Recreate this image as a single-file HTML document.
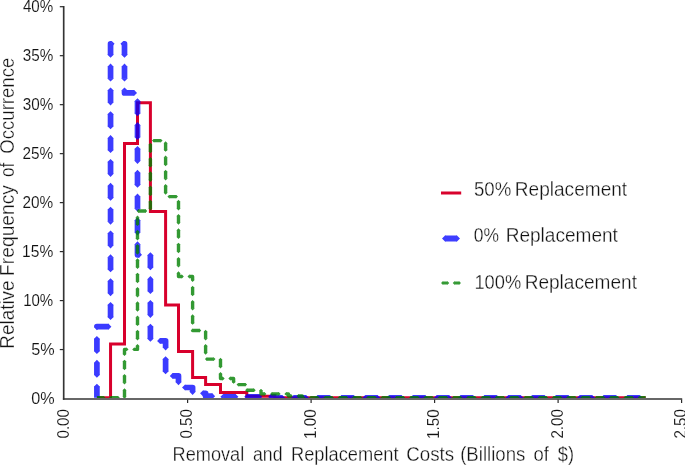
<!DOCTYPE html>
<html><head><meta charset="utf-8"><style>
html,body{margin:0;padding:0;background:#fff;width:685px;height:465px;overflow:hidden}
svg{display:block;font-family:"Liberation Sans", sans-serif}
.tx{opacity:0.995}
text{fill:#111;stroke:#fff;stroke-width:0.3px}
text.tk{stroke-width:0.12px}
</style></head><body>
<svg width="685" height="465" viewBox="0 0 685 465">
<defs><clipPath id="pa"><rect x="64" y="6.7" width="617.5" height="391.3"/></clipPath></defs>
<rect width="685" height="465" fill="#fff"/>
<g clip-path="url(#pa)">
<path d="M96.90,397.80 L110.55,397.80 L110.55,344.05 L124.50,344.05 L124.50,143.50 L137.50,143.50 L137.50,102.70 L150.40,102.70 L150.40,211.50 L165.60,211.50 L165.60,305.00 L178.50,305.00 L178.50,351.60 L192.60,351.60 L192.60,377.40 L205.60,377.40 L205.60,384.40 L220.50,384.40 L220.50,392.60 L246.80,392.60 L246.80,396.20 L274.74,396.20 L274.74,397.80 L645.70,397.80" fill="none" stroke="#D8002C" stroke-width="3" stroke-linejoin="miter"/>
<g opacity="0.765"><path d="M96.90,397.80 L96.90,386.55 M96.90,375.01 L96.90,362.71 M96.90,351.17 L96.90,338.87 M96.90,327.33 L96.90,326.70 L108.57,326.70 M110.55,317.14 L110.55,304.84 M110.55,293.30 L110.55,281.00 M110.55,269.46 L110.55,257.16 M110.55,245.62 L110.55,233.32 M110.55,221.78 L110.55,209.48 M110.55,197.94 L110.55,185.64 M110.55,174.10 L110.55,161.80 M110.55,150.26 L110.55,137.96 M110.55,126.42 L110.55,114.12 M110.55,102.58 L110.55,90.28 M110.55,78.74 L110.55,66.44 M110.55,54.90 L110.55,43.80 L111.75,43.80 M123.29,43.80 L124.50,43.80 L124.50,54.89 M124.50,66.43 L124.50,78.73 M124.50,90.27 L124.50,92.90 L134.17,92.90 M137.50,101.11 L137.50,113.41 M137.50,124.95 L137.50,137.25 M137.50,148.79 L137.50,161.09 M137.50,172.63 L137.50,184.93 M137.50,196.47 L137.50,208.77 M137.50,220.31 L137.50,232.61 M137.50,244.15 L137.50,254.80 L139.15,254.80 M150.40,255.09 L150.40,267.39 M150.40,278.93 L150.40,291.23 M150.40,302.77 L150.40,315.07 M150.40,326.61 L150.40,338.91 M159.95,340.90 L165.60,340.90 L165.60,347.55 M165.60,359.09 L165.60,371.39 M172.63,375.90 L178.50,375.90 L178.50,382.33 M184.87,387.50 L192.60,387.50 L192.60,392.07 M202.91,393.30 L205.60,393.30 L205.60,396.20 L212.31,396.20 M223.25,396.80 L235.55,396.80 M247.09,396.80 L259.39,396.80 M270.93,396.80 L274.74,396.80 L274.74,397.80 L282.23,397.80 M293.77,397.80 L306.07,397.80 M317.61,397.80 L329.91,397.80 M341.45,397.80 L353.75,397.80 M365.29,397.80 L377.59,397.80 M389.13,397.80 L401.43,397.80 M412.97,397.80 L425.27,397.80 M436.81,397.80 L449.11,397.80 M460.65,397.80 L472.95,397.80 M484.49,397.80 L496.79,397.80 M508.33,397.80 L520.63,397.80 M532.17,397.80 L544.47,397.80 M556.01,397.80 L568.31,397.80 M579.85,397.80 L592.15,397.80 M603.69,397.80 L615.99,397.80 M627.53,397.80 L639.83,397.80" fill="none" stroke="#0000FF" stroke-width="5.7" stroke-linejoin="round"/>
<path d="M99.75,386.55 L96.90,383.70 L94.05,386.55 L94.05,387.15 L99.75,387.15Z M99.75,375.01 L96.90,377.86 L94.05,375.01 L94.05,374.41 L99.75,374.41Z M99.75,362.71 L96.90,359.86 L94.05,362.71 L94.05,363.31 L99.75,363.31Z M99.75,351.17 L96.90,354.02 L94.05,351.17 L94.05,350.57 L99.75,350.57Z M99.75,338.87 L96.90,336.02 L94.05,338.87 L94.05,339.47 L99.75,339.47Z M99.75,327.33 L96.90,330.18 L94.05,327.33 L94.05,326.73 L99.75,326.73Z M108.57,329.55 L111.42,326.70 L108.57,323.85 L107.97,323.85 L107.97,329.55Z M113.40,317.14 L110.55,319.99 L107.70,317.14 L107.70,316.54 L113.40,316.54Z M113.40,304.84 L110.55,301.99 L107.70,304.84 L107.70,305.44 L113.40,305.44Z M113.40,293.30 L110.55,296.15 L107.70,293.30 L107.70,292.70 L113.40,292.70Z M113.40,281.00 L110.55,278.15 L107.70,281.00 L107.70,281.60 L113.40,281.60Z M113.40,269.46 L110.55,272.31 L107.70,269.46 L107.70,268.86 L113.40,268.86Z M113.40,257.16 L110.55,254.31 L107.70,257.16 L107.70,257.76 L113.40,257.76Z M113.40,245.62 L110.55,248.47 L107.70,245.62 L107.70,245.02 L113.40,245.02Z M113.40,233.32 L110.55,230.47 L107.70,233.32 L107.70,233.92 L113.40,233.92Z M113.40,221.78 L110.55,224.63 L107.70,221.78 L107.70,221.18 L113.40,221.18Z M113.40,209.48 L110.55,206.63 L107.70,209.48 L107.70,210.08 L113.40,210.08Z M113.40,197.94 L110.55,200.79 L107.70,197.94 L107.70,197.34 L113.40,197.34Z M113.40,185.64 L110.55,182.79 L107.70,185.64 L107.70,186.24 L113.40,186.24Z M113.40,174.10 L110.55,176.95 L107.70,174.10 L107.70,173.50 L113.40,173.50Z M113.40,161.80 L110.55,158.95 L107.70,161.80 L107.70,162.40 L113.40,162.40Z M113.40,150.26 L110.55,153.11 L107.70,150.26 L107.70,149.66 L113.40,149.66Z M113.40,137.96 L110.55,135.11 L107.70,137.96 L107.70,138.56 L113.40,138.56Z M113.40,126.42 L110.55,129.27 L107.70,126.42 L107.70,125.82 L113.40,125.82Z M113.40,114.12 L110.55,111.27 L107.70,114.12 L107.70,114.72 L113.40,114.72Z M113.40,102.58 L110.55,105.43 L107.70,102.58 L107.70,101.98 L113.40,101.98Z M113.40,90.28 L110.55,87.43 L107.70,90.28 L107.70,90.88 L113.40,90.88Z M113.40,78.74 L110.55,81.59 L107.70,78.74 L107.70,78.14 L113.40,78.14Z M113.40,66.44 L110.55,63.59 L107.70,66.44 L107.70,67.04 L113.40,67.04Z M113.40,54.90 L110.55,57.75 L107.70,54.90 L107.70,54.30 L113.40,54.30Z M111.75,46.65 L114.60,43.80 L111.75,40.95 L111.15,40.95 L111.15,46.65Z M123.29,46.65 L120.44,43.80 L123.29,40.95 L123.89,40.95 L123.89,46.65Z M121.65,54.89 L124.50,57.74 L127.35,54.89 L127.35,54.29 L121.65,54.29Z M121.65,66.43 L124.50,63.58 L127.35,66.43 L127.35,67.03 L121.65,67.03Z M121.65,78.73 L124.50,81.58 L127.35,78.73 L127.35,78.13 L121.65,78.13Z M121.65,90.27 L124.50,87.42 L127.35,90.27 L127.35,90.87 L121.65,90.87Z M134.17,95.75 L137.02,92.90 L134.17,90.05 L133.57,90.05 L133.57,95.75Z M134.65,101.11 L137.50,98.26 L140.35,101.11 L140.35,101.71 L134.65,101.71Z M134.65,113.41 L137.50,116.26 L140.35,113.41 L140.35,112.81 L134.65,112.81Z M134.65,124.95 L137.50,122.10 L140.35,124.95 L140.35,125.55 L134.65,125.55Z M134.65,137.25 L137.50,140.10 L140.35,137.25 L140.35,136.65 L134.65,136.65Z M134.65,148.79 L137.50,145.94 L140.35,148.79 L140.35,149.39 L134.65,149.39Z M134.65,161.09 L137.50,163.94 L140.35,161.09 L140.35,160.49 L134.65,160.49Z M134.65,172.63 L137.50,169.78 L140.35,172.63 L140.35,173.23 L134.65,173.23Z M134.65,184.93 L137.50,187.78 L140.35,184.93 L140.35,184.33 L134.65,184.33Z M134.65,196.47 L137.50,193.62 L140.35,196.47 L140.35,197.07 L134.65,197.07Z M134.65,208.77 L137.50,211.62 L140.35,208.77 L140.35,208.17 L134.65,208.17Z M134.65,220.31 L137.50,217.46 L140.35,220.31 L140.35,220.91 L134.65,220.91Z M134.65,232.61 L137.50,235.46 L140.35,232.61 L140.35,232.01 L134.65,232.01Z M134.65,244.15 L137.50,241.30 L140.35,244.15 L140.35,244.75 L134.65,244.75Z M139.15,257.65 L142.00,254.80 L139.15,251.95 L138.55,251.95 L138.55,257.65Z M147.55,255.09 L150.40,252.24 L153.25,255.09 L153.25,255.69 L147.55,255.69Z M147.55,267.39 L150.40,270.24 L153.25,267.39 L153.25,266.79 L147.55,266.79Z M147.55,278.93 L150.40,276.08 L153.25,278.93 L153.25,279.53 L147.55,279.53Z M147.55,291.23 L150.40,294.08 L153.25,291.23 L153.25,290.63 L147.55,290.63Z M147.55,302.77 L150.40,299.92 L153.25,302.77 L153.25,303.37 L147.55,303.37Z M147.55,315.07 L150.40,317.92 L153.25,315.07 L153.25,314.47 L147.55,314.47Z M147.55,326.61 L150.40,323.76 L153.25,326.61 L153.25,327.21 L147.55,327.21Z M147.55,338.91 L150.40,341.76 L153.25,338.91 L153.25,338.31 L147.55,338.31Z M159.95,343.75 L157.10,340.90 L159.95,338.05 L160.55,338.05 L160.55,343.75Z M162.75,347.55 L165.60,350.40 L168.45,347.55 L168.45,346.95 L162.75,346.95Z M162.75,359.09 L165.60,356.24 L168.45,359.09 L168.45,359.69 L162.75,359.69Z M162.75,371.39 L165.60,374.24 L168.45,371.39 L168.45,370.79 L162.75,370.79Z M172.63,378.75 L169.78,375.90 L172.63,373.05 L173.23,373.05 L173.23,378.75Z M175.65,382.33 L178.50,385.18 L181.35,382.33 L181.35,381.73 L175.65,381.73Z M184.87,390.35 L182.02,387.50 L184.87,384.65 L185.47,384.65 L185.47,390.35Z M189.75,392.07 L192.60,394.92 L195.45,392.07 L195.45,391.47 L189.75,391.47Z M202.91,396.15 L200.06,393.30 L202.91,390.45 L203.51,390.45 L203.51,396.15Z M212.31,399.05 L215.16,396.20 L212.31,393.35 L211.71,393.35 L211.71,399.05Z M223.25,399.65 L220.40,396.80 L223.25,393.95 L223.85,393.95 L223.85,399.65Z M235.55,399.65 L238.40,396.80 L235.55,393.95 L234.95,393.95 L234.95,399.65Z M247.09,399.65 L244.24,396.80 L247.09,393.95 L247.69,393.95 L247.69,399.65Z M259.39,399.65 L262.24,396.80 L259.39,393.95 L258.79,393.95 L258.79,399.65Z M270.93,399.65 L268.08,396.80 L270.93,393.95 L271.53,393.95 L271.53,399.65Z M282.23,400.65 L285.08,397.80 L282.23,394.95 L281.63,394.95 L281.63,400.65Z M293.77,400.65 L290.92,397.80 L293.77,394.95 L294.37,394.95 L294.37,400.65Z M306.07,400.65 L308.92,397.80 L306.07,394.95 L305.47,394.95 L305.47,400.65Z M317.61,400.65 L314.76,397.80 L317.61,394.95 L318.21,394.95 L318.21,400.65Z M329.91,400.65 L332.76,397.80 L329.91,394.95 L329.31,394.95 L329.31,400.65Z M341.45,400.65 L338.60,397.80 L341.45,394.95 L342.05,394.95 L342.05,400.65Z M353.75,400.65 L356.60,397.80 L353.75,394.95 L353.15,394.95 L353.15,400.65Z M365.29,400.65 L362.44,397.80 L365.29,394.95 L365.89,394.95 L365.89,400.65Z M377.59,400.65 L380.44,397.80 L377.59,394.95 L376.99,394.95 L376.99,400.65Z M389.13,400.65 L386.28,397.80 L389.13,394.95 L389.73,394.95 L389.73,400.65Z M401.43,400.65 L404.28,397.80 L401.43,394.95 L400.83,394.95 L400.83,400.65Z M412.97,400.65 L410.12,397.80 L412.97,394.95 L413.57,394.95 L413.57,400.65Z M425.27,400.65 L428.12,397.80 L425.27,394.95 L424.67,394.95 L424.67,400.65Z M436.81,400.65 L433.96,397.80 L436.81,394.95 L437.41,394.95 L437.41,400.65Z M449.11,400.65 L451.96,397.80 L449.11,394.95 L448.51,394.95 L448.51,400.65Z M460.65,400.65 L457.80,397.80 L460.65,394.95 L461.25,394.95 L461.25,400.65Z M472.95,400.65 L475.80,397.80 L472.95,394.95 L472.35,394.95 L472.35,400.65Z M484.49,400.65 L481.64,397.80 L484.49,394.95 L485.09,394.95 L485.09,400.65Z M496.79,400.65 L499.64,397.80 L496.79,394.95 L496.19,394.95 L496.19,400.65Z M508.33,400.65 L505.48,397.80 L508.33,394.95 L508.93,394.95 L508.93,400.65Z M520.63,400.65 L523.48,397.80 L520.63,394.95 L520.03,394.95 L520.03,400.65Z M532.17,400.65 L529.32,397.80 L532.17,394.95 L532.77,394.95 L532.77,400.65Z M544.47,400.65 L547.32,397.80 L544.47,394.95 L543.87,394.95 L543.87,400.65Z M556.01,400.65 L553.16,397.80 L556.01,394.95 L556.61,394.95 L556.61,400.65Z M568.31,400.65 L571.16,397.80 L568.31,394.95 L567.71,394.95 L567.71,400.65Z M579.85,400.65 L577.00,397.80 L579.85,394.95 L580.45,394.95 L580.45,400.65Z M592.15,400.65 L595.00,397.80 L592.15,394.95 L591.55,394.95 L591.55,400.65Z M603.69,400.65 L600.84,397.80 L603.69,394.95 L604.29,394.95 L604.29,400.65Z M615.99,400.65 L618.84,397.80 L615.99,394.95 L615.39,394.95 L615.39,400.65Z M627.53,400.65 L624.68,397.80 L627.53,394.95 L628.13,394.95 L628.13,400.65Z M639.83,400.65 L642.68,397.80 L639.83,394.95 L639.23,394.95 L639.23,400.65Z" fill="#0000FF"/></g>
<g opacity="0.8"><path d="M96.90,397.80 L103.81,397.80 M110.90,397.80 L118.09,397.80 M124.50,397.12 L124.50,389.92 M124.50,382.83 L124.50,375.63 M124.50,368.55 L124.50,361.35 M124.50,354.26 L124.50,349.40 L126.83,349.40 M133.92,349.40 L137.50,349.40 L137.50,345.78 M137.50,338.70 L137.50,331.50 M137.50,324.41 L137.50,317.21 M137.50,310.12 L137.50,302.93 M137.50,295.84 L137.50,288.64 M137.50,281.56 L137.50,274.36 M137.50,267.27 L137.50,260.07 M137.50,252.99 L137.50,245.79 M137.50,238.70 L137.50,231.50 M137.50,224.42 L137.50,217.22 M138.37,211.00 L145.57,211.00 M150.40,208.75 L150.40,201.55 M150.40,194.46 L150.40,187.26 M150.40,180.18 L150.40,172.98 M150.40,165.89 L150.40,158.69 M150.40,151.61 L150.40,144.41 M153.68,140.60 L160.88,140.60 M165.60,142.97 L165.60,150.17 M165.60,157.25 L165.60,164.45 M165.60,171.54 L165.60,178.74 M165.60,185.82 L165.60,193.02 M169.11,196.60 L176.31,196.60 M178.50,201.49 L178.50,208.69 M178.50,215.78 L178.50,222.98 M178.50,230.06 L178.50,237.26 M178.50,244.35 L178.50,251.55 M178.50,258.63 L178.50,265.83 M178.50,272.92 L178.50,276.50 L182.12,276.50 M189.20,276.50 L192.60,276.50 L192.60,280.30 M192.60,287.39 L192.60,294.59 M192.60,301.67 L192.60,308.87 M192.60,315.96 L192.60,323.16 M192.60,330.24 L192.60,330.50 L199.54,330.50 M205.60,331.53 L205.60,338.73 M205.60,345.81 L205.60,353.01 M206.60,359.10 L213.80,359.10 M220.50,359.48 L220.50,366.68 M220.50,373.77 L220.50,378.50 L222.97,378.50 M230.05,378.50 L233.60,378.50 L233.60,382.15 M238.23,384.60 L245.43,384.60 M246.82,390.30 L254.02,390.30 M261.00,390.40 L261.00,393.90 L264.70,393.90 M271.79,393.90 L278.99,393.90 M286.07,393.90 L288.48,393.90 L288.48,396.00 L291.17,396.00 M298.26,396.00 L302.22,396.00 L302.22,397.80 L303.66,397.80 M310.74,397.80 L317.94,397.80 M325.03,397.80 L332.23,397.80 M339.31,397.80 L346.51,397.80 M353.60,397.80 L360.80,397.80 M367.88,397.80 L375.08,397.80 M382.17,397.80 L389.37,397.80 M396.45,397.80 L403.65,397.80 M410.74,397.80 L417.94,397.80 M425.02,397.80 L432.22,397.80 M439.31,397.80 L446.51,397.80 M453.59,397.80 L460.79,397.80 M467.88,397.80 L475.08,397.80 M482.16,397.80 L489.36,397.80 M496.45,397.80 L503.65,397.80 M510.73,397.80 L517.93,397.80 M525.02,397.80 L532.22,397.80 M539.30,397.80 L546.50,397.80 M553.59,397.80 L560.79,397.80 M567.87,397.80 L575.07,397.80 M582.16,397.80 L589.36,397.80 M596.44,397.80 L603.64,397.80 M610.73,397.80 L617.93,397.80 M625.01,397.80 L632.21,397.80 M639.30,397.80 L645.70,397.80" fill="none" stroke="#008000" stroke-width="3.4" stroke-linejoin="round"/>
<path d="M103.81,399.50 L105.51,397.80 L103.81,396.10 L103.21,396.10 L103.21,399.50Z M110.90,399.50 L109.20,397.80 L110.90,396.10 L111.50,396.10 L111.50,399.50Z M118.09,399.50 L119.80,397.80 L118.09,396.10 L117.50,396.10 L117.50,399.50Z M126.20,397.12 L124.50,398.82 L122.80,397.12 L122.80,396.52 L126.20,396.52Z M126.20,389.92 L124.50,388.22 L122.80,389.92 L122.80,390.52 L126.20,390.52Z M126.20,382.83 L124.50,384.53 L122.80,382.83 L122.80,382.23 L126.20,382.23Z M126.20,375.63 L124.50,373.94 L122.80,375.63 L122.80,376.24 L126.20,376.24Z M126.20,368.55 L124.50,370.25 L122.80,368.55 L122.80,367.95 L126.20,367.95Z M126.20,361.35 L124.50,359.65 L122.80,361.35 L122.80,361.95 L126.20,361.95Z M126.20,354.26 L124.50,355.96 L122.80,354.26 L122.80,353.66 L126.20,353.66Z M126.83,351.10 L128.53,349.40 L126.83,347.70 L126.23,347.70 L126.23,351.10Z M133.92,351.10 L132.22,349.40 L133.92,347.70 L134.52,347.70 L134.52,351.10Z M139.20,345.78 L137.50,344.08 L135.80,345.78 L135.80,346.38 L139.20,346.38Z M139.20,338.70 L137.50,340.40 L135.80,338.70 L135.80,338.10 L139.20,338.10Z M139.20,331.50 L137.50,329.80 L135.80,331.50 L135.80,332.10 L139.20,332.10Z M139.20,324.41 L137.50,326.11 L135.80,324.41 L135.80,323.81 L139.20,323.81Z M139.20,317.21 L137.50,315.51 L135.80,317.21 L135.80,317.81 L139.20,317.81Z M139.20,310.12 L137.50,311.82 L135.80,310.12 L135.80,309.52 L139.20,309.52Z M139.20,302.93 L137.50,301.23 L135.80,302.93 L135.80,303.53 L139.20,303.53Z M139.20,295.84 L137.50,297.54 L135.80,295.84 L135.80,295.24 L139.20,295.24Z M139.20,288.64 L137.50,286.94 L135.80,288.64 L135.80,289.24 L139.20,289.24Z M139.20,281.56 L137.50,283.26 L135.80,281.56 L135.80,280.96 L139.20,280.96Z M139.20,274.36 L137.50,272.66 L135.80,274.36 L135.80,274.96 L139.20,274.96Z M139.20,267.27 L137.50,268.97 L135.80,267.27 L135.80,266.67 L139.20,266.67Z M139.20,260.07 L137.50,258.37 L135.80,260.07 L135.80,260.67 L139.20,260.67Z M139.20,252.99 L137.50,254.69 L135.80,252.99 L135.80,252.39 L139.20,252.39Z M139.20,245.79 L137.50,244.09 L135.80,245.79 L135.80,246.39 L139.20,246.39Z M139.20,238.70 L137.50,240.40 L135.80,238.70 L135.80,238.10 L139.20,238.10Z M139.20,231.50 L137.50,229.80 L135.80,231.50 L135.80,232.10 L139.20,232.10Z M139.20,224.42 L137.50,226.12 L135.80,224.42 L135.80,223.82 L139.20,223.82Z M139.20,217.22 L137.50,215.52 L135.80,217.22 L135.80,217.82 L139.20,217.82Z M138.37,212.70 L136.67,211.00 L138.37,209.30 L138.97,209.30 L138.97,212.70Z M145.57,212.70 L147.27,211.00 L145.57,209.30 L144.97,209.30 L144.97,212.70Z M152.10,208.75 L150.40,210.45 L148.70,208.75 L148.70,208.15 L152.10,208.15Z M152.10,201.55 L150.40,199.85 L148.70,201.55 L148.70,202.15 L152.10,202.15Z M152.10,194.46 L150.40,196.16 L148.70,194.46 L148.70,193.86 L152.10,193.86Z M152.10,187.26 L150.40,185.56 L148.70,187.26 L148.70,187.86 L152.10,187.86Z M152.10,180.18 L150.40,181.88 L148.70,180.18 L148.70,179.58 L152.10,179.58Z M152.10,172.98 L150.40,171.28 L148.70,172.98 L148.70,173.58 L152.10,173.58Z M152.10,165.89 L150.40,167.59 L148.70,165.89 L148.70,165.29 L152.10,165.29Z M152.10,158.69 L150.40,156.99 L148.70,158.69 L148.70,159.29 L152.10,159.29Z M152.10,151.61 L150.40,153.31 L148.70,151.61 L148.70,151.01 L152.10,151.01Z M152.10,144.41 L150.40,142.71 L148.70,144.41 L148.70,145.00 L152.10,145.00Z M153.68,142.30 L151.98,140.60 L153.68,138.90 L154.28,138.90 L154.28,142.30Z M160.88,142.30 L162.58,140.60 L160.88,138.90 L160.28,138.90 L160.28,142.30Z M163.90,142.97 L165.60,141.27 L167.30,142.97 L167.30,143.56 L163.90,143.56Z M163.90,150.17 L165.60,151.87 L167.30,150.17 L167.30,149.57 L163.90,149.57Z M163.90,157.25 L165.60,155.55 L167.30,157.25 L167.30,157.85 L163.90,157.85Z M163.90,164.45 L165.60,166.15 L167.30,164.45 L167.30,163.85 L163.90,163.85Z M163.90,171.54 L165.60,169.84 L167.30,171.54 L167.30,172.14 L163.90,172.14Z M163.90,178.74 L165.60,180.44 L167.30,178.74 L167.30,178.14 L163.90,178.14Z M163.90,185.82 L165.60,184.12 L167.30,185.82 L167.30,186.42 L163.90,186.42Z M163.90,193.02 L165.60,194.72 L167.30,193.02 L167.30,192.42 L163.90,192.42Z M169.11,198.30 L167.41,196.60 L169.11,194.90 L169.71,194.90 L169.71,198.30Z M176.31,198.30 L178.01,196.60 L176.31,194.90 L175.71,194.90 L175.71,198.30Z M176.80,201.49 L178.50,199.79 L180.20,201.49 L180.20,202.09 L176.80,202.09Z M176.80,208.69 L178.50,210.39 L180.20,208.69 L180.20,208.09 L176.80,208.09Z M176.80,215.78 L178.50,214.08 L180.20,215.78 L180.20,216.38 L176.80,216.38Z M176.80,222.98 L178.50,224.68 L180.20,222.98 L180.20,222.38 L176.80,222.38Z M176.80,230.06 L178.50,228.36 L180.20,230.06 L180.20,230.66 L176.80,230.66Z M176.80,237.26 L178.50,238.96 L180.20,237.26 L180.20,236.66 L176.80,236.66Z M176.80,244.35 L178.50,242.65 L180.20,244.35 L180.20,244.95 L176.80,244.95Z M176.80,251.55 L178.50,253.25 L180.20,251.55 L180.20,250.95 L176.80,250.95Z M176.80,258.63 L178.50,256.93 L180.20,258.63 L180.20,259.23 L176.80,259.23Z M176.80,265.83 L178.50,267.53 L180.20,265.83 L180.20,265.23 L176.80,265.23Z M176.80,272.92 L178.50,271.22 L180.20,272.92 L180.20,273.52 L176.80,273.52Z M182.12,278.20 L183.82,276.50 L182.12,274.80 L181.52,274.80 L181.52,278.20Z M189.20,278.20 L187.50,276.50 L189.20,274.80 L189.80,274.80 L189.80,278.20Z M190.90,280.30 L192.60,282.00 L194.30,280.30 L194.30,279.70 L190.90,279.70Z M190.90,287.39 L192.60,285.69 L194.30,287.39 L194.30,287.99 L190.90,287.99Z M190.90,294.59 L192.60,296.29 L194.30,294.59 L194.30,293.99 L190.90,293.99Z M190.90,301.67 L192.60,299.97 L194.30,301.67 L194.30,302.27 L190.90,302.27Z M190.90,308.87 L192.60,310.57 L194.30,308.87 L194.30,308.27 L190.90,308.27Z M190.90,315.96 L192.60,314.26 L194.30,315.96 L194.30,316.56 L190.90,316.56Z M190.90,323.16 L192.60,324.86 L194.30,323.16 L194.30,322.56 L190.90,322.56Z M190.90,330.24 L192.60,328.54 L194.30,330.24 L194.30,330.84 L190.90,330.84Z M199.54,332.20 L201.24,330.50 L199.54,328.80 L198.94,328.80 L198.94,332.20Z M203.90,331.53 L205.60,329.83 L207.30,331.53 L207.30,332.13 L203.90,332.13Z M203.90,338.73 L205.60,340.43 L207.30,338.73 L207.30,338.13 L203.90,338.13Z M203.90,345.81 L205.60,344.11 L207.30,345.81 L207.30,346.41 L203.90,346.41Z M203.90,353.01 L205.60,354.71 L207.30,353.01 L207.30,352.41 L203.90,352.41Z M206.60,360.80 L204.90,359.10 L206.60,357.40 L207.20,357.40 L207.20,360.80Z M213.80,360.80 L215.50,359.10 L213.80,357.40 L213.20,357.40 L213.20,360.80Z M218.80,359.48 L220.50,357.78 L222.20,359.48 L222.20,360.08 L218.80,360.08Z M218.80,366.68 L220.50,368.38 L222.20,366.68 L222.20,366.08 L218.80,366.08Z M218.80,373.77 L220.50,372.07 L222.20,373.77 L222.20,374.37 L218.80,374.37Z M222.97,380.20 L224.67,378.50 L222.97,376.80 L222.37,376.80 L222.37,380.20Z M230.05,380.20 L228.35,378.50 L230.05,376.80 L230.65,376.80 L230.65,380.20Z M231.90,382.15 L233.60,383.85 L235.30,382.15 L235.30,381.55 L231.90,381.55Z M238.23,386.30 L236.53,384.60 L238.23,382.90 L238.83,382.90 L238.83,386.30Z M245.43,386.30 L247.13,384.60 L245.43,382.90 L244.83,382.90 L244.83,386.30Z M246.82,392.00 L245.12,390.30 L246.82,388.60 L247.42,388.60 L247.42,392.00Z M254.02,392.00 L255.72,390.30 L254.02,388.60 L253.42,388.60 L253.42,392.00Z M259.30,390.40 L261.00,388.70 L262.70,390.40 L262.70,391.00 L259.30,391.00Z M264.70,395.60 L266.40,393.90 L264.70,392.20 L264.10,392.20 L264.10,395.60Z M271.79,395.60 L270.09,393.90 L271.79,392.20 L272.39,392.20 L272.39,395.60Z M278.99,395.60 L280.69,393.90 L278.99,392.20 L278.39,392.20 L278.39,395.60Z M286.07,395.60 L284.37,393.90 L286.07,392.20 L286.67,392.20 L286.67,395.60Z M291.17,397.70 L292.87,396.00 L291.17,394.30 L290.57,394.30 L290.57,397.70Z M298.26,397.70 L296.56,396.00 L298.26,394.30 L298.86,394.30 L298.86,397.70Z M303.66,399.50 L305.36,397.80 L303.66,396.10 L303.06,396.10 L303.06,399.50Z M310.74,399.50 L309.04,397.80 L310.74,396.10 L311.34,396.10 L311.34,399.50Z M317.94,399.50 L319.64,397.80 L317.94,396.10 L317.34,396.10 L317.34,399.50Z M325.03,399.50 L323.33,397.80 L325.03,396.10 L325.63,396.10 L325.63,399.50Z M332.23,399.50 L333.93,397.80 L332.23,396.10 L331.63,396.10 L331.63,399.50Z M339.31,399.50 L337.61,397.80 L339.31,396.10 L339.91,396.10 L339.91,399.50Z M346.51,399.50 L348.21,397.80 L346.51,396.10 L345.91,396.10 L345.91,399.50Z M353.60,399.50 L351.90,397.80 L353.60,396.10 L354.20,396.10 L354.20,399.50Z M360.80,399.50 L362.50,397.80 L360.80,396.10 L360.20,396.10 L360.20,399.50Z M367.88,399.50 L366.18,397.80 L367.88,396.10 L368.48,396.10 L368.48,399.50Z M375.08,399.50 L376.78,397.80 L375.08,396.10 L374.48,396.10 L374.48,399.50Z M382.17,399.50 L380.47,397.80 L382.17,396.10 L382.77,396.10 L382.77,399.50Z M389.37,399.50 L391.07,397.80 L389.37,396.10 L388.77,396.10 L388.77,399.50Z M396.45,399.50 L394.75,397.80 L396.45,396.10 L397.05,396.10 L397.05,399.50Z M403.65,399.50 L405.35,397.80 L403.65,396.10 L403.05,396.10 L403.05,399.50Z M410.74,399.50 L409.04,397.80 L410.74,396.10 L411.34,396.10 L411.34,399.50Z M417.94,399.50 L419.64,397.80 L417.94,396.10 L417.34,396.10 L417.34,399.50Z M425.02,399.50 L423.32,397.80 L425.02,396.10 L425.62,396.10 L425.62,399.50Z M432.22,399.50 L433.92,397.80 L432.22,396.10 L431.62,396.10 L431.62,399.50Z M439.31,399.50 L437.61,397.80 L439.31,396.10 L439.91,396.10 L439.91,399.50Z M446.51,399.50 L448.21,397.80 L446.51,396.10 L445.91,396.10 L445.91,399.50Z M453.59,399.50 L451.89,397.80 L453.59,396.10 L454.19,396.10 L454.19,399.50Z M460.79,399.50 L462.49,397.80 L460.79,396.10 L460.19,396.10 L460.19,399.50Z M467.88,399.50 L466.18,397.80 L467.88,396.10 L468.48,396.10 L468.48,399.50Z M475.08,399.50 L476.78,397.80 L475.08,396.10 L474.48,396.10 L474.48,399.50Z M482.16,399.50 L480.46,397.80 L482.16,396.10 L482.76,396.10 L482.76,399.50Z M489.36,399.50 L491.06,397.80 L489.36,396.10 L488.76,396.10 L488.76,399.50Z M496.45,399.50 L494.75,397.80 L496.45,396.10 L497.05,396.10 L497.05,399.50Z M503.65,399.50 L505.35,397.80 L503.65,396.10 L503.05,396.10 L503.05,399.50Z M510.73,399.50 L509.03,397.80 L510.73,396.10 L511.33,396.10 L511.33,399.50Z M517.93,399.50 L519.63,397.80 L517.93,396.10 L517.33,396.10 L517.33,399.50Z M525.02,399.50 L523.32,397.80 L525.02,396.10 L525.62,396.10 L525.62,399.50Z M532.22,399.50 L533.92,397.80 L532.22,396.10 L531.62,396.10 L531.62,399.50Z M539.30,399.50 L537.60,397.80 L539.30,396.10 L539.90,396.10 L539.90,399.50Z M546.50,399.50 L548.20,397.80 L546.50,396.10 L545.90,396.10 L545.90,399.50Z M553.59,399.50 L551.89,397.80 L553.59,396.10 L554.19,396.10 L554.19,399.50Z M560.79,399.50 L562.49,397.80 L560.79,396.10 L560.19,396.10 L560.19,399.50Z M567.87,399.50 L566.17,397.80 L567.87,396.10 L568.47,396.10 L568.47,399.50Z M575.07,399.50 L576.77,397.80 L575.07,396.10 L574.47,396.10 L574.47,399.50Z M582.16,399.50 L580.46,397.80 L582.16,396.10 L582.76,396.10 L582.76,399.50Z M589.36,399.50 L591.06,397.80 L589.36,396.10 L588.76,396.10 L588.76,399.50Z M596.44,399.50 L594.74,397.80 L596.44,396.10 L597.04,396.10 L597.04,399.50Z M603.64,399.50 L605.34,397.80 L603.64,396.10 L603.04,396.10 L603.04,399.50Z M610.73,399.50 L609.03,397.80 L610.73,396.10 L611.33,396.10 L611.33,399.50Z M617.93,399.50 L619.63,397.80 L617.93,396.10 L617.33,396.10 L617.33,399.50Z M625.01,399.50 L623.31,397.80 L625.01,396.10 L625.61,396.10 L625.61,399.50Z M632.21,399.50 L633.91,397.80 L632.21,396.10 L631.61,396.10 L631.61,399.50Z M639.30,399.50 L637.60,397.80 L639.30,396.10 L639.90,396.10 L639.90,399.50Z" fill="#008000"/></g>
</g>
<g class="tx">
<line x1="63.7" y1="6.0" x2="63.7" y2="399.85" stroke="#333" stroke-width="1.67"/>
<line x1="62.9" y1="399.0" x2="682.2" y2="399.0" stroke="#333" stroke-width="1.7"/>
<line x1="59.8" y1="6.70" x2="63.7" y2="6.70" stroke="#2a2a2a" stroke-width="1.2"/>
<text class="tk" x="22.95" y="11.70" font-size="16.5" textLength="30.29" lengthAdjust="spacingAndGlyphs">40%</text>
<line x1="59.8" y1="55.68" x2="63.7" y2="55.68" stroke="#2a2a2a" stroke-width="1.2"/>
<text class="tk" x="22.72" y="60.68" font-size="16.5" textLength="30.52" lengthAdjust="spacingAndGlyphs">35%</text>
<line x1="59.8" y1="104.66" x2="63.7" y2="104.66" stroke="#2a2a2a" stroke-width="1.2"/>
<text class="tk" x="22.72" y="109.66" font-size="16.5" textLength="30.52" lengthAdjust="spacingAndGlyphs">30%</text>
<line x1="59.8" y1="153.64" x2="63.7" y2="153.64" stroke="#2a2a2a" stroke-width="1.2"/>
<text class="tk" x="22.53" y="158.64" font-size="16.5" textLength="30.72" lengthAdjust="spacingAndGlyphs">25%</text>
<line x1="59.8" y1="202.62" x2="63.7" y2="202.62" stroke="#2a2a2a" stroke-width="1.2"/>
<text class="tk" x="22.53" y="207.62" font-size="16.5" textLength="30.72" lengthAdjust="spacingAndGlyphs">20%</text>
<line x1="59.8" y1="251.60" x2="63.7" y2="251.60" stroke="#2a2a2a" stroke-width="1.2"/>
<text class="tk" x="22.11" y="256.60" font-size="16.5" textLength="31.14" lengthAdjust="spacingAndGlyphs">15%</text>
<line x1="59.8" y1="300.58" x2="63.7" y2="300.58" stroke="#2a2a2a" stroke-width="1.2"/>
<text class="tk" x="23.16" y="305.58" font-size="16.5" textLength="30.08" lengthAdjust="spacingAndGlyphs">10%</text>
<line x1="59.8" y1="349.56" x2="63.7" y2="349.56" stroke="#2a2a2a" stroke-width="1.2"/>
<text class="tk" x="31.35" y="354.56" font-size="16.5" textLength="23.43" lengthAdjust="spacingAndGlyphs">5%</text>
<text class="tk" x="31.37" y="403.54" font-size="16.5" textLength="23.41" lengthAdjust="spacingAndGlyphs">0%</text>
<text class="tk" transform="translate(68.70,0) rotate(-90)" x="-438.39" y="0" font-size="17" textLength="29.17" lengthAdjust="spacingAndGlyphs">0.00</text>
<line x1="187.60" y1="399.5" x2="187.60" y2="403" stroke="#2a2a2a" stroke-width="1.2"/>
<text class="tk" transform="translate(192.20,0) rotate(-90)" x="-438.39" y="0" font-size="17" textLength="29.17" lengthAdjust="spacingAndGlyphs">0.50</text>
<line x1="311.10" y1="399.5" x2="311.10" y2="403" stroke="#2a2a2a" stroke-width="1.2"/>
<text class="tk" transform="translate(315.70,0) rotate(-90)" x="-438.96" y="0" font-size="17" textLength="29.76" lengthAdjust="spacingAndGlyphs">1.00</text>
<line x1="434.60" y1="399.5" x2="434.60" y2="403" stroke="#2a2a2a" stroke-width="1.2"/>
<text class="tk" transform="translate(439.20,0) rotate(-90)" x="-438.96" y="0" font-size="17" textLength="29.76" lengthAdjust="spacingAndGlyphs">1.50</text>
<line x1="558.10" y1="399.5" x2="558.10" y2="403" stroke="#2a2a2a" stroke-width="1.2"/>
<text class="tk" transform="translate(562.70,0) rotate(-90)" x="-438.56" y="0" font-size="17" textLength="29.35" lengthAdjust="spacingAndGlyphs">2.00</text>
<line x1="681.60" y1="399.5" x2="681.60" y2="403" stroke="#2a2a2a" stroke-width="1.2"/>
<text class="tk" transform="translate(686.20,0) rotate(-90)" x="-438.56" y="0" font-size="17" textLength="29.35" lengthAdjust="spacingAndGlyphs">2.50</text>
<text x="172.61" y="461.2" font-size="19.5" textLength="71.60" lengthAdjust="spacingAndGlyphs">Removal</text>
<text x="253.05" y="461.2" font-size="19.5" textLength="29.49" lengthAdjust="spacingAndGlyphs">and</text>
<text x="291.00" y="461.2" font-size="19.5" textLength="107.53" lengthAdjust="spacingAndGlyphs">Replacement</text>
<text x="406.25" y="461.2" font-size="19.5" textLength="47.93" lengthAdjust="spacingAndGlyphs">Costs</text>
<text x="460.14" y="461.2" font-size="19.5" textLength="65.23" lengthAdjust="spacingAndGlyphs">(Billions</text>
<text x="533.43" y="461.2" font-size="19.5" textLength="15.35" lengthAdjust="spacingAndGlyphs">of</text>
<text x="557.80" y="461.2" font-size="19.5" textLength="16.23" lengthAdjust="spacingAndGlyphs">$)</text>
<text transform="translate(13.9,0) rotate(-90)" x="-348.65" y="0" font-size="19.5" textLength="68.19" lengthAdjust="spacingAndGlyphs">Relative</text>
<text transform="translate(13.9,0) rotate(-90)" x="-275.88" y="0" font-size="19.5" textLength="90.81" lengthAdjust="spacingAndGlyphs">Frequency</text>
<text transform="translate(13.9,0) rotate(-90)" x="-176.92" y="0" font-size="19.5" textLength="14.29" lengthAdjust="spacingAndGlyphs">of</text>
<text transform="translate(13.9,0) rotate(-90)" x="-153.78" y="0" font-size="19.5" textLength="96.11" lengthAdjust="spacingAndGlyphs">Occurrence</text>
<line x1="441" y1="193" x2="461.2" y2="193" stroke="#D8002C" stroke-width="3"/>
<g opacity="0.765"><path d="M445.00,238.50 L457.00,238.50" fill="none" stroke="#0000FF" stroke-width="6"/><path d="M445.00,241.50 L442.00,238.50 L445.00,235.50 L445.60,235.50 L445.60,241.50Z M457.00,241.50 L460.00,238.50 L457.00,235.50 L456.40,235.50 L456.40,241.50Z" fill="#0000FF"/></g>
<g opacity="0.8"><path d="M442.60,283.00 L447.70,283.00 M454.30,283.00 L459.40,283.00" fill="none" stroke="#008000" stroke-width="3.2"/><path d="M442.60,284.60 L441.00,283.00 L442.60,281.40 L443.20,281.40 L443.20,284.60Z M447.70,284.60 L449.30,283.00 L447.70,281.40 L447.10,281.40 L447.10,284.60Z M454.30,284.60 L452.70,283.00 L454.30,281.40 L454.90,281.40 L454.90,284.60Z M459.40,284.60 L461.00,283.00 L459.40,281.40 L458.80,281.40 L458.80,284.60Z" fill="#008000"/></g>
<text x="473.95" y="195.5" font-size="19.5" textLength="37.31" lengthAdjust="spacingAndGlyphs">50%</text>
<text x="514.84" y="195.5" font-size="19.5" textLength="112.30" lengthAdjust="spacingAndGlyphs">Replacement</text>
<text x="473.82" y="242.3" font-size="19.5" textLength="25.20" lengthAdjust="spacingAndGlyphs">0%</text>
<text x="505.64" y="242.3" font-size="19.5" textLength="112.30" lengthAdjust="spacingAndGlyphs">Replacement</text>
<text x="474.41" y="289.4" font-size="19.5" textLength="46.74" lengthAdjust="spacingAndGlyphs">100%</text>
<text x="524.64" y="289.4" font-size="19.5" textLength="112.40" lengthAdjust="spacingAndGlyphs">Replacement</text>
</g>
</svg>
</body></html>
